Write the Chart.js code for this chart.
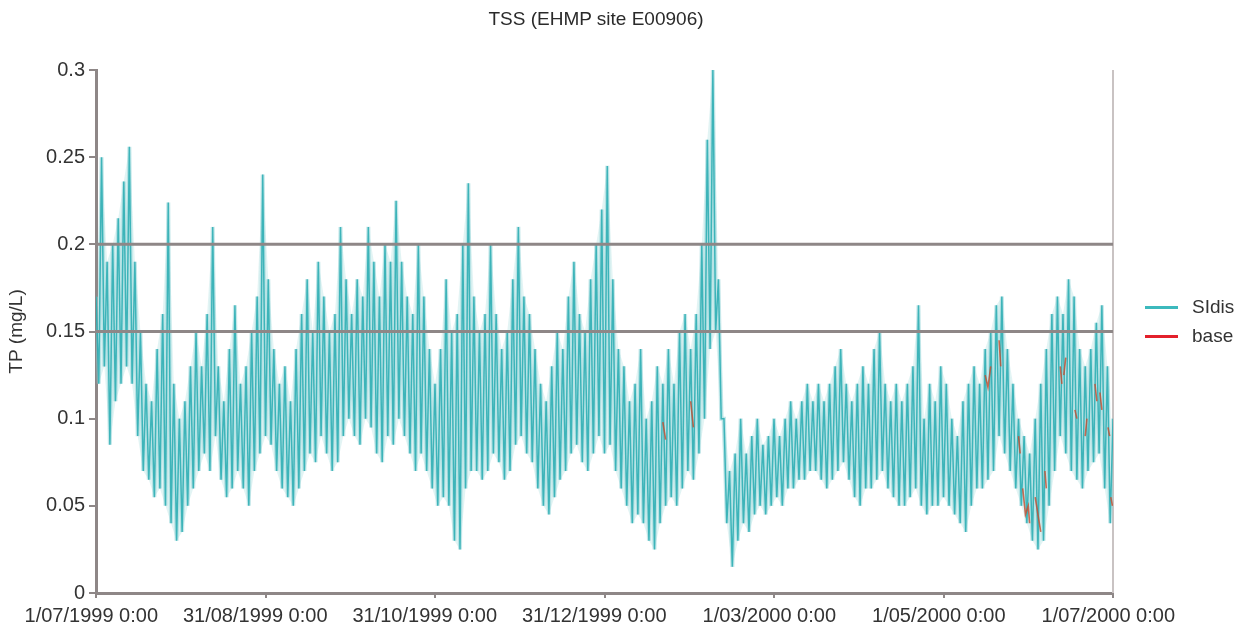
<!DOCTYPE html>
<html>
<head>
<meta charset="utf-8">
<script src="https://cdn.jsdelivr.net/npm/chart.js@4.4.0/dist/chart.umd.min.js"></script>
<style>
  body { margin: 0; background: #fff; font-family: "Liberation Sans", Arial, sans-serif; }
  #wrap { position: relative; width: 1247px; height: 632px; }
  #title { position: absolute; left: 0; width: 1192px; top: 8px; text-align: center; font-size: 19px; color: #2a2a2a; }
  .leg { position: absolute; left: 1145px; font-size: 19px; color: #333; height: 24px; line-height: 24px; }
  .leg span { display: inline-block; width: 33px; height: 3px; vertical-align: middle; margin-right: 14px; }
</style>
</head>
<body>
<div id="wrap">
  <canvas id="chart" width="1247" height="632"></canvas>
  <div id="title">TSS (EHMP site E00906)</div>
  <div class="leg" style="top: 295px;"><span style="background:#3cb9bd"></span>SIdis</div>
  <div class="leg" style="top: 324px;"><span style="background:#e3202b"></span>base</div>
</div>
<script>
// x axis: days since 1/07/1999
const xTickDays = [0, 61, 122, 183, 244, 305, 366];
const xTickLabels = ['1/07/1999 0:00', '31/08/1999 0:00', '31/10/1999 0:00', '31/12/1999 0:00', '1/03/2000 0:00', '1/05/2000 0:00', '1/07/2000 0:00'];
const yTickVals = [0, 0.05, 0.1, 0.15, 0.2, 0.25, 0.3];
const yTickLabels = ['0', '0.05', '0.1', '0.15', '0.2', '0.25', '0.3'];

// guideline levels
const thresholds = [0.15, 0.2];

// SIdis, read every 2 days: highs on even days, lows on the odd day after
const sidisHigh = [
  0.17, 0.25, 0.19, 0.2, 0.215, 0.236, 0.256, 0.19, 0.15, 0.12,
  0.11, 0.14, 0.16, 0.224, 0.12, 0.1, 0.11, 0.13, 0.15, 0.13,
  0.16, 0.21, 0.13, 0.11, 0.14, 0.165, 0.12, 0.13, 0.15, 0.17,
  0.24, 0.18, 0.14, 0.12, 0.13, 0.11, 0.14, 0.16, 0.18, 0.15,
  0.19, 0.17, 0.15, 0.16, 0.21, 0.18, 0.16, 0.18, 0.17, 0.21,
  0.19, 0.17, 0.2, 0.19, 0.225, 0.19, 0.17, 0.16, 0.2, 0.17,
  0.14, 0.12, 0.14, 0.18, 0.15, 0.16, 0.2, 0.235, 0.17, 0.15,
  0.16, 0.2, 0.16, 0.14, 0.15, 0.18, 0.21, 0.17, 0.16, 0.14,
  0.12, 0.11, 0.13, 0.15, 0.14, 0.17, 0.19, 0.16, 0.15, 0.18,
  0.2, 0.22, 0.245, 0.18, 0.14, 0.13, 0.11, 0.12, 0.14, 0.1,
  0.11, 0.13, 0.12, 0.14, 0.12, 0.15, 0.16, 0.14, 0.16, 0.2,
  0.26, 0.3, 0.18, 0.1, 0.07, 0.08, 0.1, 0.08, 0.09, 0.1,
  0.085, 0.09, 0.1, 0.09, 0.1, 0.11, 0.1, 0.11, 0.12, 0.11,
  0.12, 0.11, 0.12, 0.13, 0.14, 0.12, 0.11, 0.12, 0.13, 0.12,
  0.14, 0.15, 0.12, 0.11, 0.12, 0.11, 0.12, 0.13, 0.165, 0.1,
  0.12, 0.11, 0.13, 0.12, 0.1, 0.09, 0.11, 0.12, 0.13, 0.12,
  0.14, 0.15, 0.165, 0.17, 0.14, 0.12, 0.1, 0.09, 0.08, 0.1,
  0.12, 0.14, 0.16, 0.17, 0.16, 0.18, 0.17, 0.14, 0.13, 0.14,
  0.155, 0.165, 0.13, 0.1
];
const sidisLow = [
  0.12, 0.13, 0.085, 0.11, 0.12, 0.13, 0.12, 0.09, 0.07, 0.065,
  0.055, 0.06, 0.05, 0.04, 0.03, 0.035, 0.05, 0.06, 0.07, 0.08,
  0.07, 0.09, 0.065, 0.055, 0.06, 0.07, 0.06, 0.05, 0.07, 0.08,
  0.09, 0.085, 0.07, 0.06, 0.055, 0.05, 0.06, 0.07, 0.08, 0.075,
  0.09, 0.08, 0.07, 0.075, 0.09, 0.1, 0.09, 0.085, 0.1, 0.095,
  0.08, 0.075, 0.09, 0.085, 0.1, 0.09, 0.08, 0.07, 0.08, 0.07,
  0.06, 0.05, 0.055, 0.05, 0.03, 0.025, 0.06, 0.07, 0.07, 0.065,
  0.07, 0.08, 0.075, 0.065, 0.07, 0.085, 0.09, 0.08, 0.075, 0.06,
  0.05, 0.045, 0.055, 0.065, 0.07, 0.08, 0.085, 0.075, 0.07, 0.08,
  0.09, 0.08, 0.085, 0.07, 0.06, 0.05, 0.04, 0.045, 0.04, 0.03,
  0.025, 0.04, 0.05, 0.055, 0.05, 0.06, 0.07, 0.065, 0.08, 0.1,
  0.14, 0.15, 0.1, 0.04, 0.015, 0.03, 0.04, 0.035, 0.045, 0.05,
  0.045, 0.05, 0.055, 0.05, 0.06, 0.06, 0.065, 0.065, 0.07, 0.07,
  0.065, 0.06, 0.065, 0.07, 0.075, 0.065, 0.055, 0.05, 0.06, 0.06,
  0.065, 0.07, 0.06, 0.055, 0.05, 0.05, 0.055, 0.06, 0.05, 0.045,
  0.05, 0.05, 0.055, 0.05, 0.045, 0.04, 0.035, 0.05, 0.06, 0.06,
  0.065, 0.07, 0.09, 0.08, 0.07, 0.06, 0.05, 0.04, 0.03, 0.025,
  0.03, 0.05, 0.07, 0.09, 0.08, 0.07, 0.065, 0.06, 0.07, 0.075,
  0.08, 0.06, 0.04
];

// base: short visible fragments (null = gap)
const baseDays = [204, 205, null, 214, 215, null, 320, 321, 322, null, 325, 325.6, null, 332, 332.6, null,
  333.5, 334.5, 335.5, 336, null, 338, 339, 340, null, 341.5, 342, null, 347, 347.6, null, 348.3, 349, null,
  352.3, 353, null, 356, 356.6, null, 359.5, 360.2, null, 361.3, 362, null, 364.2, 364.8, null, 365.2, 365.8];
const baseVals = [0.098, 0.088, null, 0.11, 0.095, null, 0.125, 0.118, 0.13, null, 0.145, 0.13, null, 0.09, 0.08, null,
  0.06, 0.045, 0.05, 0.04, null, 0.055, 0.045, 0.035, null, 0.07, 0.06, null, 0.13, 0.12, null, 0.125, 0.135, null,
  0.105, 0.1, null, 0.09, 0.1, null, 0.12, 0.11, null, 0.115, 0.105, null, 0.095, 0.09, null, 0.055, 0.05];

const sidisPoints = [];
sidisHigh.forEach((v, i) => {
  sidisPoints.push({ x: i * 2, y: v });
  if (i < sidisLow.length) sidisPoints.push({ x: i * 2 + 1, y: sidisLow[i] });
});
const highPoints = sidisHigh.map((v, i) => ({ x: i * 2, y: v }));
const lowPoints = sidisLow.map((v, i) => ({ x: i * 2 + 1, y: v }));
const basePoints = baseDays.map((d, i) => d === null ? { x: null, y: null } : { x: d, y: baseVals[i] });

const axisGrey = '#8e8787';
const tickFont = { family: '"Liberation Sans", Arial, sans-serif', size: 20 };

const frame = {
  id: 'frame',
  beforeDatasetsDraw(chart) {
    const a = chart.chartArea, ctx = chart.ctx;
    ctx.save();
    ctx.strokeStyle = '#c9c3c3';
    ctx.lineWidth = 2;
    ctx.beginPath();
    ctx.moveTo(a.right, a.top);
    ctx.lineTo(a.right, a.bottom);
    ctx.stroke();
    ctx.restore();
  }
};

const datasets = [
  {
    label: 'low edge', data: lowPoints, borderWidth: 0, borderColor: 'rgba(0,0,0,0)',
    pointRadius: 0, tension: 0, order: 6
  },
  {
    label: 'band', data: highPoints, borderWidth: 0, borderColor: 'rgba(0,0,0,0)',
    backgroundColor: 'rgba(150,214,217,0.28)', fill: '-1', pointRadius: 0, tension: 0, order: 5
  },
  {
    label: 'halo', data: sidisPoints, borderColor: 'rgba(140,210,214,0.5)', borderWidth: 4,
    pointRadius: 0, tension: 0, order: 4
  },
  {
    label: 'SIdis', data: sidisPoints, borderColor: 'rgba(40,172,178,0.85)', borderWidth: 1.5,
    pointRadius: 0, tension: 0, order: 3
  },
  {
    label: 'base', data: basePoints, borderColor: 'rgba(200,75,45,0.8)', borderWidth: 1.6,
    pointRadius: 0, spanGaps: false, tension: 0, order: 2
  }
];
thresholds.forEach(t => {
  datasets.push({
    label: 'limit ' + t, data: [{ x: 0, y: t }, { x: 366, y: t }], borderColor: axisGrey,
    borderWidth: 3, pointRadius: 0, order: 1
  });
});

new Chart(document.getElementById('chart'), {
  type: 'line',
  data: { datasets },
  plugins: [frame],
  options: {
    responsive: false,
    animation: false,
    layout: { padding: { top: 70, right: 134, bottom: 0, left: 0 } },
    plugins: { legend: { display: false }, tooltip: { enabled: false }, title: { display: false }, filler: { propagate: false } },
    scales: {
      x: {
        type: 'linear', min: 0, max: 366,
        afterBuildTicks: s => { s.ticks = xTickDays.map(v => ({ value: v })); },
        afterFit: s => { s.height = 39; s.paddingLeft = 0; s.paddingRight = 0; },
        ticks: {
          autoSkip: false, maxRotation: 0, minRotation: 0, align: 'end', labelOffset: 62, padding: 6,
          color: '#333', font: tickFont,
          callback: (v, i) => xTickLabels[i]
        },
        grid: { drawOnChartArea: false, tickLength: 5, color: axisGrey, lineWidth: 2 },
        border: { color: axisGrey, width: 3 }
      },
      y: {
        min: 0, max: 0.3,
        afterBuildTicks: s => { s.ticks = yTickVals.map(v => ({ value: v })); },
        afterFit: s => { s.width = 96; s.paddingTop = 0; s.paddingBottom = 0; },
        ticks: { color: '#333', font: tickFont, padding: 4, callback: (v, i) => yTickLabels[i] },
        grid: { drawOnChartArea: false, tickLength: 7, color: axisGrey, lineWidth: 2 },
        border: { color: axisGrey, width: 3 },
        title: {
          display: true, text: 'TP (mg/L)', color: '#333',
          font: { family: '"Liberation Sans", Arial, sans-serif', size: 19 }, padding: { top: 5, bottom: 0 }
        }
      }
    }
  }
});
</script>
</body>
</html>
